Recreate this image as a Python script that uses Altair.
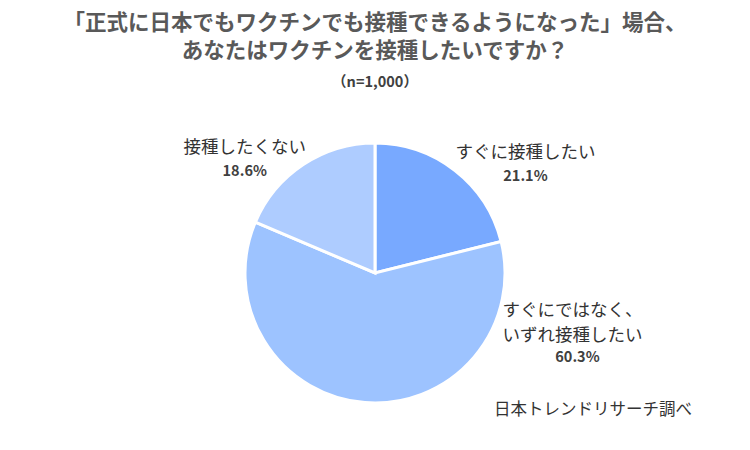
import altair as alt
import pandas as pd

categories = ["すぐに接種したい", "すぐにではなく、\nいずれ接種したい", "接種したくない"]
values = [21.1, 60.3, 18.6]
pct_labels = ["21.1%", "60.3%", "18.6%"]
colors = ["#78A9FF", "#9DC3FF", "#AECCFF"]

df = pd.DataFrame({
    "cat": categories,
    "value": values,
    "pct": pct_labels,
    "order": [0, 1, 2],
})

FONT = "Noto Sans CJK JP"
R_LABEL = 160
theta_scale = alt.Scale(domain=[0, 100], range=[0, 6.283185307179586])

pie = alt.Chart(df).mark_arc(stroke="white", strokeWidth=3, outerRadius=130).encode(
    theta=alt.Theta("value:Q", stack=True, scale=theta_scale),
    order=alt.Order("order:Q"),
    color=alt.Color("cat:N", scale=alt.Scale(domain=categories, range=colors), legend=None),
)

lab_base = alt.Chart(df).transform_window(
    cum="sum(value)", sort=[alt.SortField("order")]
).transform_calculate(
    mid="datum.cum - datum.value / 2"
)

offsets = {
    0: dict(name=(52, 6), pct=(52, 30)),
    1: dict(name=(210, -122), pct=(215, -75)),
    2: dict(name=(-42, 8), pct=(-42, 32)),
}

layers = [pie]
for i, cat in enumerate(categories):
    nd = offsets[i]["name"]
    pdx = offsets[i]["pct"]
    b = lab_base.transform_filter(alt.datum.order == i).encode(
        theta=alt.Theta("mid:Q", stack=None, scale=theta_scale)
    )
    name = b.mark_text(
        radius=R_LABEL, font=FONT, fontSize=17.5, color="#333333",
        dx=nd[0], dy=nd[1], lineBreak="\n", lineHeight=25, align="center", baseline="middle"
    ).encode(text="cat:N")
    pct = b.mark_text(
        radius=R_LABEL, font=FONT, fontSize=14.5, fontWeight="bold", color="#404040",
        dx=pdx[0], dy=pdx[1], align="center", baseline="middle"
    ).encode(text="pct:N")
    layers += [name, pct]

source = alt.Chart(pd.DataFrame({"t": ["日本トレンドリサーチ調べ"]})).mark_text(
    font=FONT, fontSize=16.5, color="#333333", align="left", baseline="middle"
).encode(text="t:N", x=alt.value(486), y=alt.value(302))
layers.append(source)

chart = alt.layer(*layers).properties(
    width=734, height=330,
    padding={"left": 0, "top": 100, "right": 0, "bottom": 0},
    autosize=alt.AutoSizeParams(type="none"),
    title=alt.TitleParams(
        text=["「正式に日本でもワクチンでも接種できるようになった」場合、", "あなたはワクチンを接種したいですか？"],
        subtitle="（n=1,000）",
        font=FONT, fontSize=21.5, fontWeight="bold", color="#595959", lineHeight=28,
        subtitleFont=FONT, subtitleFontSize=14.5, subtitleFontWeight="bold", subtitleColor="#404040",
        subtitlePadding=13, anchor="middle", offset=19,
    ),
).configure_view(stroke=None)

chart.save("out.html", embed_options={"renderer": "svg", "actions": False})
